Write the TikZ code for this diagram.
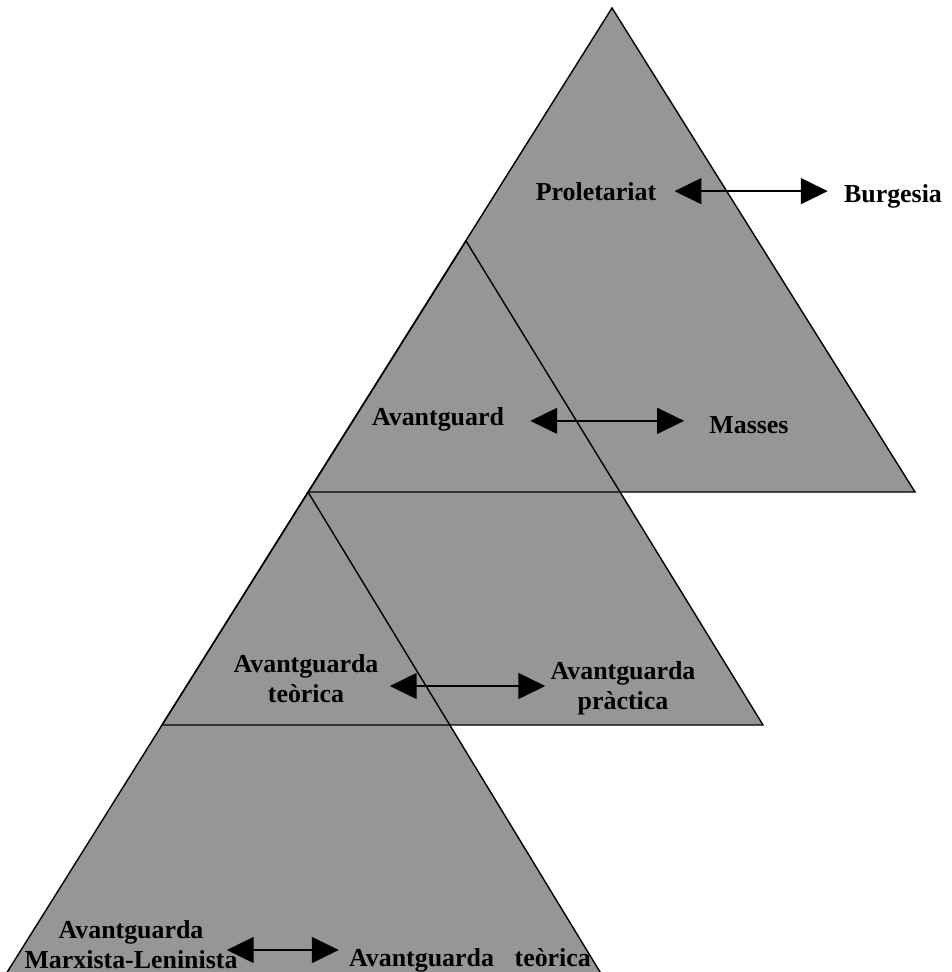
\documentclass[tikz,border=0pt]{standalone}
\usepackage{fontspec}
\setmainfont{Liberation Serif}
\usetikzlibrary{arrows.meta,calc}
\definecolor{trigray}{RGB}{150,150,150}
\tikzset{
  lbl/.style={font=\bfseries\fontsize{14.74}{17}\selectfont, inner sep=0pt, align=center},
  dbl/.style={line width=1.1pt, {Triangle[length=15.3pt,width=14.7pt]}-{Triangle[length=15.3pt,width=14.7pt]}},
  edge/.style={line width=0.8pt}
}
\begin{document}
\begin{tikzpicture}[x=0.02cm,y=-0.02cm]
   \clip (0,0) rectangle (951,972);

   % the three triangles
   \fill[trigray] (612,8) -- (308,492) -- (915,492) -- cycle;
   \fill[trigray] (466,241) -- (162,725) -- (763,725) -- cycle;
   \fill[trigray] (308,492) -- (-4,990) -- (611,990) -- cycle;
   \draw[edge] (612,8) -- (308,492) -- (915,492) -- cycle;
   \draw[edge] (466,241) -- (162,725) -- (763,725) -- cycle;
   \draw[edge] (308,492) -- (-4,990);
   \draw[edge] (308,492) -- (611,990);

   \node[lbl,anchor=base] (prol) at (596,201) {Proletariat};
   \node[lbl,anchor=base] (burg) at (893,203) {Burgesia};
   \node[lbl,anchor=base] (avg) at (438,425) {Avantguard};
   \node[lbl,anchor=base] (mas) at (749,434) {Masses};
   \node[lbl] (teo) at (306,679) {Avantguarda\\teòrica};
   \node[lbl] (prac) at (623,688) {Avantguarda\\pràctica};
   \node[lbl] (ml) at (131,945) {Avantguarda\\Marxista-Leninista};
   \node[lbl,anchor=base] (teob) at (470,966) {Avantguarda\hspace{0.8em}teòrica};

   \draw[dbl] ($(prol.east)+(18,-1)$) -- ($(prol.east -| burg.west)+(-16,-1)$);
   \draw[dbl] ($(avg.east)+(26,2)$) -- ($(avg.east -| mas.west)+(-25,2)$);
   \draw[dbl] ($(teo.east)+(11,7)$) -- ($(teo.east -| prac.west)+(-5,7)$);
   \draw[dbl] ($(ml.east)+(-11,5)$) -- ($(ml.east -| teob.west)+(-10,5)$);
\end{tikzpicture}
\end{document}
